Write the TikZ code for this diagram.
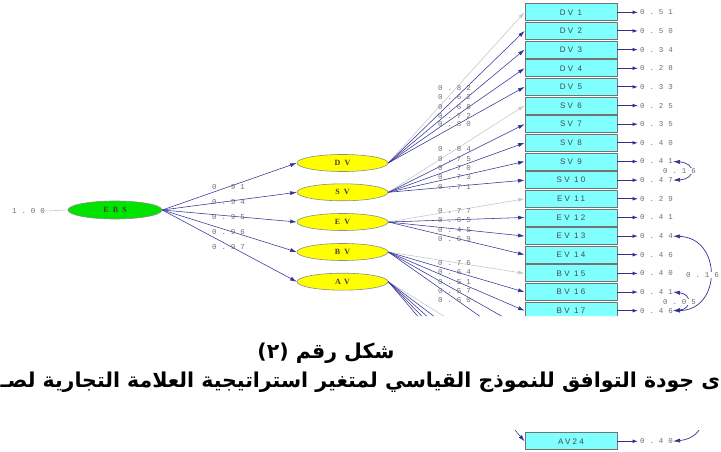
\documentclass[tikz,border=0pt]{standalone}
\usepackage{fontspec}
\usetikzlibrary{arrows.meta,shapes.geometric}
\setmainfont{Liberation Sans}
\newfontfamily\numfont[LetterSpace=65]{Liberation Mono}
\newfontfamily\latfont[LetterSpace=52]{Liberation Serif}
\newfontfamily\boxfont[LetterSpace=28]{Liberation Sans}
\newfontfamily\arabicfont[Script=Arabic]{DejaVu Sans}
\TeXXeTstate=1
\definecolor{pathblue}{RGB}{50,50,150}
\definecolor{fixgray}{RGB}{200,200,200}
\definecolor{boxcyan}{RGB}{128,255,255}
\definecolor{latyellow}{RGB}{255,255,0}
\definecolor{latgreen}{RGB}{0,228,0}
\definecolor{numgray}{RGB}{110,110,110}
\tikzset{
  obs/.style={draw=black!55, line width=0.9pt, fill=boxcyan, minimum width=92pt,
    minimum height=17pt, inner sep=0pt, font=\boxfont\fontsize{8}{9}\selectfont, text=black!72},
  lat/.style={ellipse, draw=black!45, line width=0.6pt, fill=latyellow, minimum width=91pt,
    minimum height=17pt, inner sep=0pt, font=\latfont\bfseries\fontsize{8}{9}\selectfont, text=black!75},
  num/.style={font=\numfont\fontsize{7.5}{8}\selectfont, text=numgray, inner sep=0pt, anchor=west},
  load/.style={draw=pathblue, line width=0.55pt, -{Latex[length=6.5pt,width=4pt]}},
  fixload/.style={draw=fixgray, line width=0.6pt, -{Latex[length=6.5pt,width=4pt]}},
  errarrow/.style={draw=pathblue, line width=0.9pt, -{Latex[length=5.5pt,width=3.8pt]}, shorten >=2pt},
  cov/.style={draw=pathblue, line width=0.7pt, {Latex[length=7pt,width=4.2pt]}-{Latex[length=7pt,width=4.2pt]}},
  caption/.style={font=\arabicfont\bfseries\fontsize{20.5}{24}\selectfont, inner sep=0pt}
}
\begin{document}
\begin{tikzpicture}[x=1pt,y=-1pt]
\useasboundingbox (0,0) rectangle (721,452);
\begin{scope}
\clip (0,0) rectangle (721,316) (0,430) rectangle (721,452);
% second-order factor and first-order factors
\node[lat, fill=latgreen, minimum width=94pt, minimum height=18pt] (EBS) at (115,210) {EBS};
\node[num] (fix) at (12,211) {1.00};
\draw[draw=fixgray, line width=0.6pt] (fix.east) -- (EBS.west);
\node[lat] (DV) at (342.5,163) {DV};
\node[lat] (SV) at (342.5,192.3) {SV};
\node[lat] (EV) at (342.5,222) {EV};
\node[lat] (BV) at (342.5,252) {BV};
\node[lat] (AV) at (342.5,281.7) {AV};
% indicator boxes and error variances
\foreach \i/\t/\e in {1/DV 1/0.51, 2/DV 2/0.50, 3/DV 3/0.34, 4/DV 4/0.28, 5/DV 5/0.33,
  6/SV 6/0.25, 7/SV 7/0.35, 8/SV 8/0.40, 9/SV 9/0.41, 10/SV 10/0.47,
  11/EV 11/0.29, 12/EV 12/0.41, 13/EV 13/0.44, 14/EV 14/0.46,
  15/BV 15/0.40, 16/BV 16/0.41, 17/BV 17/0.46, 24/AV24/0.40}{
  \node[obs] (o\i) at (571,{12.3+18.65*(\i-1)}) {\t};
  \node[num] (e\i) at (640,{12.3+18.65*(\i-1)}) {\e};
  \draw[errarrow] (o\i.east) -- (e\i.west);
}
\foreach \i in {18,...,23}{
  \coordinate (h\i) at (525,{12.3+18.65*(\i-1)});
}
\coordinate (e22r) at (673,{12.3+18.65*21});
% structural paths
\foreach \l in {DV, SV, EV, BV, AV}{
  \draw[load] (EBS.east) -- (\l.west);
}
\foreach \v/\y in {0.91/187, 0.94/202, 0.95/217, 0.96/232, 0.97/247}{
  \node[num] at (212,\y) {\v};
}
% measurement paths
\draw[fixload] (DV.east) -- (o1.west);
\foreach \i in {2,...,5} \draw[load] (DV.east) -- (o\i.west);
\draw[fixload] (SV.east) -- (o6.west);
\foreach \i in {7,...,10} \draw[load] (SV.east) -- (o\i.west);
\draw[fixload] (EV.east) -- (o11.west);
\foreach \i in {12,13,14} \draw[load] (EV.east) -- (o\i.west);
\draw[fixload] (BV.east) -- (o15.west);
\foreach \i in {16,17} \draw[load] (BV.east) -- (o\i.west);
\foreach \i in {18,19} \draw[load] (BV.east) -- (h\i);
\draw[fixload] (AV.east) -- (h20);
\foreach \i in {21,22,23} \draw[load] (AV.east) -- (h\i);
\draw[load] (AV.east) -- (o24.west);
% loading estimates
\foreach \v/\y in {0.82/88, 0.62/97, 0.68/107, 0.72/116, 0.80/124,
  0.84/149, 0.75/159, 0.70/168, 0.73/177, 0.71/187,
  0.77/211, 0.65/220, 0.45/230, 0.69/239,
  0.76/263, 0.64/272, 0.51/282, 0.57/291, 0.60/300}{
  \node[num] at (438,\y) {\v};
}
% error covariances
\draw[cov] (e9.east) .. controls (696,163) and (696,179) .. (e10.east);
\node[num, fill=white] at (663,171) {0.16};
\draw[cov] (e13.east) .. controls (722,238) and (722,310) .. (e17.east);
\node[num, fill=white] at (686,275) {0.16};
\draw[cov] (e16.east) .. controls (692,294) and (692,309) .. (e17.east);
\node[num, fill=white] at (663,302) {0.05};
\draw[cov] (e22r) .. controls (712,410) and (705,438) .. (e24.east);
\end{scope}
% caption
\node[caption] (cap1) at (326,353) {\beginR شكل رقم (٢)\endR};
\node[caption] (cap2) at (360.5,382) {\beginR ى جودة التوافق للنموذج القياسي لمتغير استراتيجية العلامة التجارية لصـ\endR};
\end{tikzpicture}
\end{document}
